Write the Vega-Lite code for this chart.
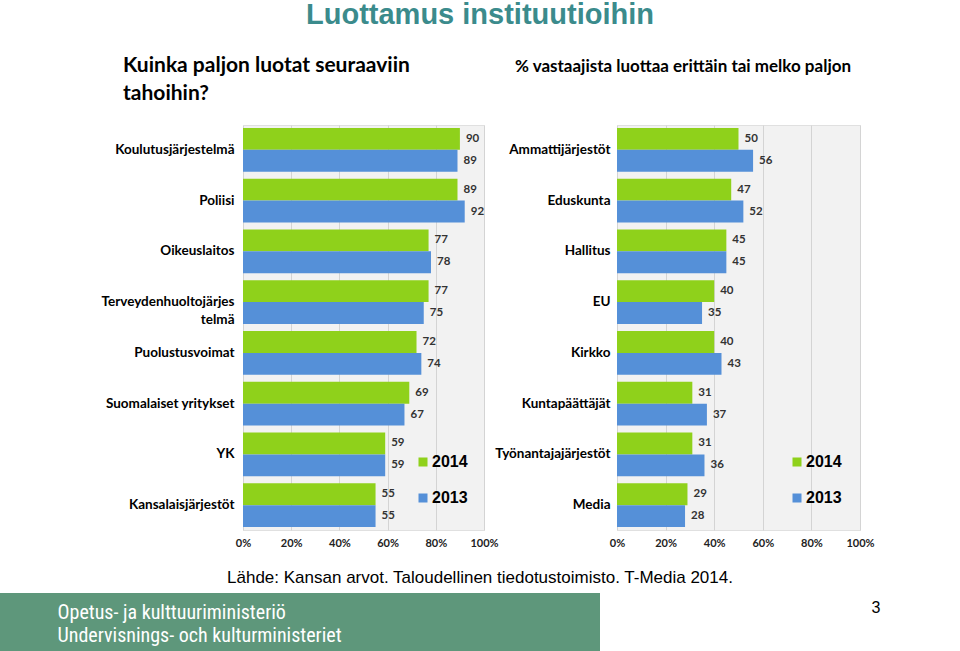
{
  "$schema": "https://vega.github.io/schema/vega-lite/v6.json",
  "background": "white",
  "padding": {"left": 0, "top": 0, "right": 0, "bottom": 0},
  "title": {"text": "Luottamus instituutioihin", "font": "Liberation Sans", "fontSize": 29, "fontWeight": "bold", "color": "#3b8b8c", "anchor": "middle", "offset": 25},
  "config": {"view": {"stroke": null}, "font": "Lato"},
  "datasets": {
    "left": [
      {"inst": "Koulutusjärjestelmä", "year": "2014", "value": 90},
      {"inst": "Koulutusjärjestelmä", "year": "2013", "value": 89},
      {"inst": "Poliisi", "year": "2014", "value": 89},
      {"inst": "Poliisi", "year": "2013", "value": 92},
      {"inst": "Oikeuslaitos", "year": "2014", "value": 77},
      {"inst": "Oikeuslaitos", "year": "2013", "value": 78},
      {"inst": "Terveydenhuoltojärjestelmä", "year": "2014", "value": 77},
      {"inst": "Terveydenhuoltojärjestelmä", "year": "2013", "value": 75},
      {"inst": "Puolustusvoimat", "year": "2014", "value": 72},
      {"inst": "Puolustusvoimat", "year": "2013", "value": 74},
      {"inst": "Suomalaiset yritykset", "year": "2014", "value": 69},
      {"inst": "Suomalaiset yritykset", "year": "2013", "value": 67},
      {"inst": "YK", "year": "2014", "value": 59},
      {"inst": "YK", "year": "2013", "value": 59},
      {"inst": "Kansalaisjärjestöt", "year": "2014", "value": 55},
      {"inst": "Kansalaisjärjestöt", "year": "2013", "value": 55}
    ],
    "right": [
      {"inst": "Ammattijärjestöt", "year": "2014", "value": 50},
      {"inst": "Ammattijärjestöt", "year": "2013", "value": 56},
      {"inst": "Eduskunta", "year": "2014", "value": 47},
      {"inst": "Eduskunta", "year": "2013", "value": 52},
      {"inst": "Hallitus", "year": "2014", "value": 45},
      {"inst": "Hallitus", "year": "2013", "value": 45},
      {"inst": "EU", "year": "2014", "value": 40},
      {"inst": "EU", "year": "2013", "value": 35},
      {"inst": "Kirkko", "year": "2014", "value": 40},
      {"inst": "Kirkko", "year": "2013", "value": 43},
      {"inst": "Kuntapäättäjät", "year": "2014", "value": 31},
      {"inst": "Kuntapäättäjät", "year": "2013", "value": 37},
      {"inst": "Työnantajajärjestöt", "year": "2014", "value": 31},
      {"inst": "Työnantajajärjestöt", "year": "2013", "value": 36},
      {"inst": "Media", "year": "2014", "value": 29},
      {"inst": "Media", "year": "2013", "value": 28}
    ],
    "ministry": [
      {"line": "Opetus- ja kulttuuriministeriö"},
      {"line": "Undervisnings- och kulturministeriet"}
    ],
    "page": [
      {"page": "3"}
    ]
  },
  "spacing": 20,
  "vconcat": [
    {
      "spacing": -5,
      "resolve": {"scale": {"color": "independent", "y": "independent"}, "legend": {"color": "independent"}},
      "hconcat": [
        {
          "width": 105, "height": 10,
          "data": {"values": [{"a": 1}]},
          "mark": {"type": "text"},
          "encoding": {"text": {"value": ""}}
        },
        {
          "width": 241, "height": 405,
          "title": {"text": ["Kuinka paljon luotat seuraaviin", "tahoihin?"], "anchor": "start", "frame": "group", "dx": -120, "offset": 21, "fontSize": 21, "font": "Lato", "fontWeight": "bold", "color": "#000000", "lineHeight": 28},
          "view": {"fill": "#f2f2f2", "stroke": "#e0e0e0"},
          "data": {"name": "left"},
          "encoding": {
            "y": {"field": "inst", "type": "nominal", "sort": null, "scale": {"paddingInner": 0.14, "paddingOuter": 0.06},
              "axis": {"title": null, "domain": false, "ticks": false, "labelFont": "Lato", "labelFontWeight": "bold", "labelFontSize": 13.5, "labelColor": "#000000", "labelPadding": 9, "labelLimit": 200, "labelLineHeight": 18, "minExtent": 142, "maxExtent": 142,
                "labelExpr": "datum.label == 'Terveydenhuoltojärjestelmä' ? ['Terveydenhuoltojärjes', 'telmä'] : datum.label"}},
            "yOffset": {"field": "year", "type": "nominal", "sort": ["2014", "2013"]},
            "x": {"field": "value", "type": "quantitative", "scale": {"domain": [0, 100]},
              "axis": {"title": null, "values": [0, 20, 40, 60, 80, 100], "labelExpr": "datum.value + '%'", "labelFlush": false, "domain": false, "ticks": false, "grid": true, "gridColor": "#d4d4d4", "labelFont": "Lato", "labelFontWeight": "bold", "labelFontSize": 11, "labelColor": "#222222", "labelPadding": 7}}
          },
          "layer": [
            {"mark": {"type": "bar"},
             "encoding": {"color": {"field": "year", "type": "nominal", "scale": {"domain": ["2014", "2013"], "range": ["#8fd11b", "#5590d8"]},
               "legend": {"title": null, "orient": "none", "legendX": 172, "legendY": 329, "symbolType": "square", "symbolSize": 81, "symbolStrokeWidth": 0, "labelFont": "Liberation Sans", "labelFontSize": 16, "labelFontWeight": "bold", "labelColor": "#000000", "rowPadding": 20, "labelOffset": 1}}}},
            {"mark": {"type": "text", "align": "left", "dx": 6, "font": "Lato", "fontWeight": "bold", "fontSize": 11.5, "color": "#333333"},
             "encoding": {"text": {"field": "value", "type": "quantitative"}}}
          ]
        },
        {
          "width": 243, "height": 405,
          "title": {"text": "% vastaajista luottaa erittäin tai melko paljon", "anchor": "start", "frame": "group", "dx": -102, "offset": 49, "fontSize": 17, "font": "Lato", "fontWeight": "bold", "color": "#000000"},
          "view": {"fill": "#f2f2f2", "stroke": "#e0e0e0"},
          "data": {"name": "right"},
          "encoding": {
            "y": {"field": "inst", "type": "nominal", "sort": null, "scale": {"paddingInner": 0.14, "paddingOuter": 0.06},
              "axis": {"title": null, "domain": false, "ticks": false, "labelFont": "Lato", "labelFontWeight": "bold", "labelFontSize": 13.5, "labelColor": "#000000", "labelPadding": 7, "labelLimit": 200, "minExtent": 117, "maxExtent": 117}},
            "yOffset": {"field": "year", "type": "nominal", "sort": ["2014", "2013"]},
            "x": {"field": "value", "type": "quantitative", "scale": {"domain": [0, 100]},
              "axis": {"title": null, "values": [0, 20, 40, 60, 80, 100], "labelExpr": "datum.value + '%'", "labelFlush": false, "domain": false, "ticks": false, "grid": true, "gridColor": "#d4d4d4", "labelFont": "Lato", "labelFontWeight": "bold", "labelFontSize": 11, "labelColor": "#222222", "labelPadding": 7}}
          },
          "layer": [
            {"mark": {"type": "bar"},
             "encoding": {"color": {"field": "year", "type": "nominal", "scale": {"domain": ["2014", "2013"], "range": ["#8fd11b", "#5590d8"]},
               "legend": {"title": null, "orient": "none", "legendX": 172, "legendY": 329, "symbolType": "square", "symbolSize": 81, "symbolStrokeWidth": 0, "labelFont": "Liberation Sans", "labelFontSize": 16, "labelFontWeight": "bold", "labelColor": "#000000", "rowPadding": 20, "labelOffset": 1}}}},
            {"mark": {"type": "text", "align": "left", "dx": 6, "font": "Lato", "fontWeight": "bold", "fontSize": 11.5, "color": "#333333"},
             "encoding": {"text": {"field": "value", "type": "quantitative"}}}
          ]
        }
      ]
    },
    {
      "title": {"text": "Lähde: Kansan arvot. Taloudellinen tiedotustoimisto. T-Media 2014.", "font": "Liberation Sans Narrow, Liberation Sans", "fontSize": 17, "fontWeight": "normal", "color": "#000000", "anchor": "middle", "offset": 6},
      "spacing": 0,
      "hconcat": [
        {
          "width": 600, "height": 58,
          "view": {"fill": "#5e977b", "stroke": null},
          "data": {"name": "ministry"},
          "mark": {"type": "text"},
          "encoding": {
            "y": {"field": "line", "type": "nominal", "sort": null, "scale": {"type": "point", "padding": 0.76, "align": 0.55},
              "axis": {"title": null, "domain": false, "ticks": false, "labelAlign": "left", "labelPadding": -57, "labelColor": "#ffffff", "labelFont": "Liberation Sans Narrow, Roboto Condensed, Liberation Sans", "labelFontSize": 20, "labelLimit": 500, "minExtent": 0, "maxExtent": 0}},
            "text": {"value": ""}
          }
        },
        {
          "width": 360, "height": 28,
          "data": {"name": "page"},
          "mark": {"type": "text"},
          "encoding": {
            "y": {"field": "page", "type": "nominal",
              "axis": {"title": null, "domain": false, "ticks": false, "labelAlign": "left", "labelPadding": -271, "labelColor": "#000000", "labelFont": "Liberation Sans", "labelFontSize": 16, "labelLimit": 100, "minExtent": 0, "maxExtent": 0}},
            "text": {"value": ""}
          }
        }
      ]
    }
  ]
}
